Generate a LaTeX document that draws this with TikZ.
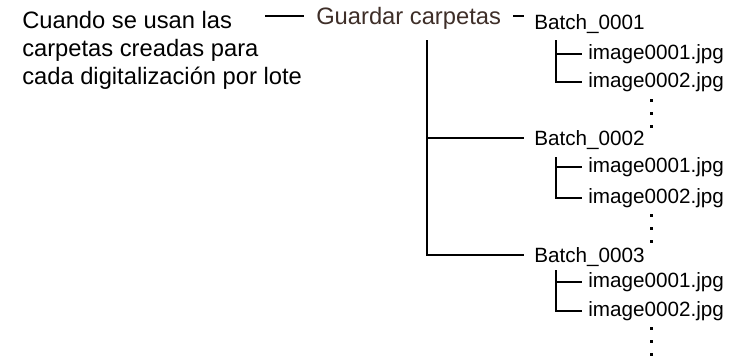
\documentclass[tikz,border=0pt]{standalone}
\usepackage{fontspec}
\setmainfont{Liberation Sans}
\usetikzlibrary{positioning}
\definecolor{guardbrown}{RGB}{62,46,40}
\tikzset{
  lnk/.style={line width=1.5pt},
  thinlnk/.style={line width=1.1pt},
  batchlbl/.style={anchor=west,inner xsep=7.5pt,inner ysep=0pt,text height=11.1pt,text depth=0pt,font=\fontsize{15.5}{18}\selectfont},
  imglbl/.style={anchor=west,inner xsep=4.5pt,inner ysep=0pt,text height=8pt,text depth=0pt,font=\fontsize{15.5}{18}\selectfont},
}

\begin{document}
\begin{tikzpicture}[x=0.75pt,y=-0.75pt]
\useasboundingbox (0,0) rectangle (733,358);
% description of the case (base = last line)
\node[anchor=base west,align=left,inner sep=0pt,font=\fontsize{17.8}{21}\selectfont] (desc) at (22,84)
  {Cuando se usan las\\carpetas creadas para\\cada digitalización por lote};
% root folder
\node[anchor=west,inner xsep=9pt,inner ysep=0pt,text height=12.7pt,text depth=0pt,text=guardbrown,font=\fontsize{17.8}{21}\selectfont] (guardar) at (304,16) {Guardar carpetas};
\coordinate (lead) at (265,16);
\draw[thinlnk] (lead) -- (guardar.west);
% batch folders
\node[batchlbl] (b1) at (524,21.6) {Batch\_0001};
\node[batchlbl] (b2) at (524,138) {Batch\_0002};
\node[batchlbl] (b3) at (524,255) {Batch\_0003};
\draw[thinlnk] (guardar.east) -- (guardar.east -| b1.west);
\coordinate (trunk) at (427,40);
\draw[lnk] (trunk) |- (b3.west);
\draw[lnk] (trunk |- b2.west) -- (b2.west);
% images in each batch
\foreach \n/\ya/\yb/\yc in {1/40/54/82, 2/157/167/198, 3/270/282/311} {
  \coordinate (s\n) at (556,\ya);
  \node[imglbl] (img\n-1) at (582,\yb) {image0001.jpg};
  \node[imglbl] (img\n-2) at (582,\yc) {image0002.jpg};
  \draw[lnk] (s\n) |- (img\n-2.west);
  \draw[lnk] (s\n |- img\n-1.west) -- (img\n-1.west);
}
% continuation dots
\foreach \y in {100,113,126,215,228,241,328,341,354}
  \fill (649.5,\y-1.5) rectangle ++(3,3);
\end{tikzpicture}
\end{document}
